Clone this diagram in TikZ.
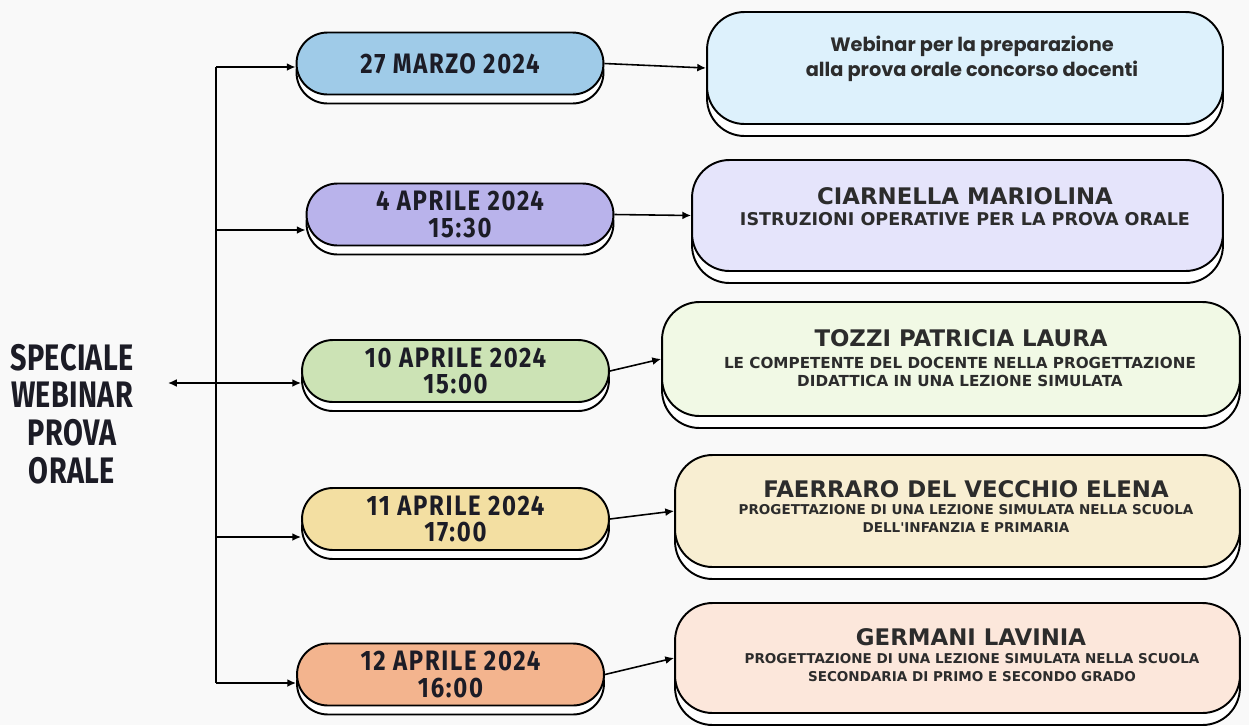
\documentclass[tikz,border=0pt]{standalone}
\usepackage{fontspec}
\usetikzlibrary{arrows.meta,shapes.misc,shadows}

\newfontfamily\datefont[FakeStretch=0.85,LetterSpace=6]{Fira Sans}
\newfontfamily\titlefont[FakeStretch=0.78,LetterSpace=1]{Fira Sans}
\newfontfamily\boxfont{DejaVu Sans}
\newfontfamily\webfont{Poppins}

\definecolor{bgcol}{HTML}{F9F9F9}
\definecolor{ink}{HTML}{1C1C26}
\definecolor{boxink}{HTML}{2C2C2C}
\definecolor{dblue}{HTML}{9FCBE8}
\definecolor{dpurple}{HTML}{B9B3EB}
\definecolor{dgreen}{HTML}{CCE3B5}
\definecolor{dyellow}{HTML}{F3DFA2}
\definecolor{dorange}{HTML}{F3B48E}
\definecolor{rblue}{HTML}{DDF1FC}
\definecolor{rpurple}{HTML}{E5E4FB}
\definecolor{rgreen}{HTML}{F1F9E5}
\definecolor{ryellow}{HTML}{F8EED2}
\definecolor{rorange}{HTML}{FCE7DB}

\tikzset{
	datepill/.style={rounded rectangle, draw=black, line width=1.1pt, minimum width=6.14cm,
		minimum height=1.24cm, inner sep=0pt, align=center, text=ink,
		font=\datefont\bfseries\fontsize{16}{15}\selectfont,
		general shadow={fill=white, draw=black, line width=1.1pt, shadow yshift=-0.18cm}},
	infobox/.style={rectangle, rounded corners=0.75cm, draw=black, line width=1.1pt,
		inner sep=0pt,
		general shadow={fill=white, draw=black, line width=1.1pt, shadow yshift=-0.24cm}},
	titletext/.style={text=boxink, font=\boxfont\bfseries\fontsize{13}{14}\selectfont},
	subtext/.style={text=boxink, align=center, font=\boxfont\bfseries\fontsize{#1}{10}\selectfont},
	link/.style={line width=0.9pt, -{Latex[length=5pt,width=4.5pt]}}
}

\begin{document}
\begin{tikzpicture}[x=0.02cm,y=-0.02cm]
	\fill[bgcol] (0,0) rectangle (1249,725);

	% title
	\node[align=center, text=ink, font=\titlefont\bfseries\fontsize{21}{21.5}\selectfont] (sw) at (72,414) {SPECIALE\\WEBINAR\\PROVA\\ORALE};

	% dates
	\node[datepill, fill=dblue] (d1) at (450,63.5) {27 MARZO 2024};
	\node[datepill, fill=dpurple] (d2) at (460,214.5) {4 APRILE 2024\\15:30};
	\node[datepill, fill=dgreen] (d3) at (455.5,371) {10 APRILE 2024\\15:00};
	\node[datepill, fill=dyellow] (d4) at (455.5,519) {11 APRILE 2024\\17:00};
	\node[datepill, fill=dorange] (d5) at (450.5,674.5) {12 APRILE 2024\\16:00};

	% boxes
	\node[infobox, fill=rblue, minimum width=10.32cm, minimum height=2.24cm] (r1) at (965,68) {};
	\node[infobox, fill=rpurple, minimum width=10.62cm, minimum height=2.22cm] (r2) at (957.5,215.5) {};
	\node[infobox, fill=rgreen, minimum width=11.56cm, minimum height=2.28cm] (r3) at (951,359) {};
	\node[infobox, fill=ryellow, minimum width=11.3cm, minimum height=2.24cm] (r4) at (957.5,511) {};
	\node[infobox, fill=rorange, minimum width=11.3cm, minimum height=2.2cm] (r5) at (957.5,658) {};

	\node[align=center, text=boxink, font=\webfont\bfseries\fontsize{11}{14.2}\selectfont] (r1t) at (972,59) {Webinar per la preparazione\\alla prova orale concorso docenti};
	\node[titletext] (r2t) at (965,196) {CIARNELLA MARIOLINA};
	\node[subtext=10] (r2s) at (965,219) {ISTRUZIONI OPERATIVE PER LA PROVA ORALE};
	\node[titletext] (r3t) at (961,338) {TOZZI PATRICIA LAURA};
	\node[subtext=8.65] (r3s) at (960,372) {LE COMPETENTE DEL DOCENTE NELLA PROGETTAZIONE\\DIDATTICA IN UNA LEZIONE SIMULATA};
	\node[titletext] (r4t) at (966,489) {FAERRARO DEL VECCHIO ELENA};
	\node[subtext=7.7] (r4s) at (966,518.5) {PROGETTAZIONE DI UNA LEZIONE SIMULATA NELLA SCUOLA\\DELL'INFANZIA E PRIMARIA};
	\node[titletext] (r5t) at (971,637) {GERMANI LAVINIA};
	\node[subtext=7.7] (r5s) at (972,667.5) {PROGETTAZIONE DI UNA LEZIONE SIMULATA NELLA SCUOLA\\SECONDARIA DI PRIMO E SECONDO GRADO};

	% trunk and branches
	\coordinate (top) at (216,67);
	\coordinate (bot) at (216,683);
	\coordinate (hub) at (168,383);
	\draw[line width=0.9pt] (top) -- (bot);
	\foreach \n/\y in {1/67,2/230,4/537,5/683}{
		\coordinate (b\n) at (216,\y);
		\draw[link] (b\n) -- (b\n -| d\n.west);
	}
	\draw[link, {Latex[length=5pt,width=4.5pt]}-{Latex[length=5pt,width=4.5pt]}] (hub) -- (hub -| d3.west);

	\foreach \n in {1,...,5}{
		\draw[link] (d\n.east) -- (r\n.west);
	}
\end{tikzpicture}
\end{document}
